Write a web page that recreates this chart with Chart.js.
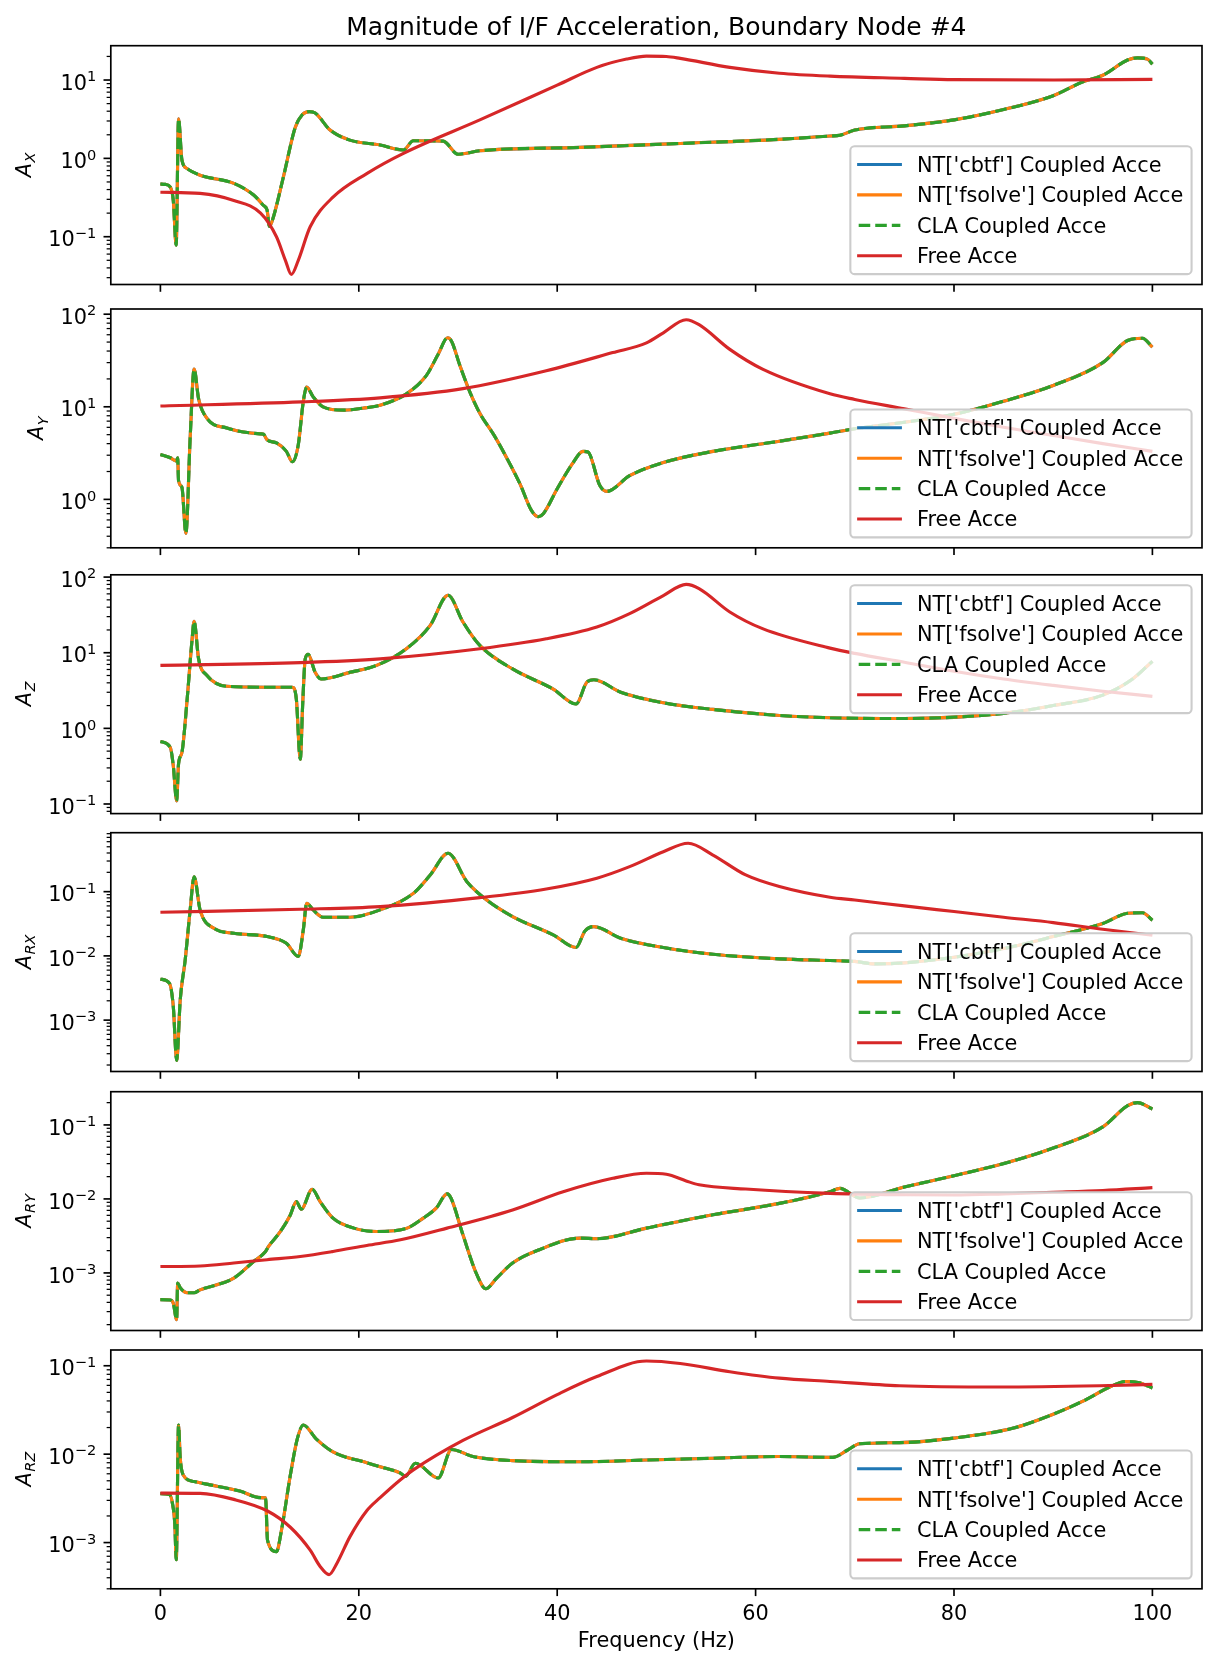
<!DOCTYPE html>
<html>
<head>
<meta charset="utf-8">
<script src="https://cdn.jsdelivr.net/npm/chart.js@4.4.1/dist/chart.umd.min.js"></script>
<style>
  html, body { margin: 0; padding: 0; background: #fff; }
  #wrap { position: relative; width: 1217px; height: 1667px; }
  #wrap canvas { position: absolute; left: 0; top: 0; }
</style>
</head>
<body>
<div id="wrap"></div>
<script>
// ---- data (frequency Hz, magnitude) ----
const title = 'Magnitude of I/F Acceleration, Boundary Node #4';
const xLabel = 'Frequency (Hz)';
const xTicks = [0, 20, 40, 60, 80, 100];
const seriesNames = ["NT['cbtf'] Coupled Acce", "NT['fsolve'] Coupled Acce", 'CLA Coupled Acce', 'Free Acce'];
const yNames = [['A','X'], ['A','Y'], ['A','Z'], ['A','RX'], ['A','RY'], ['A','RZ']];
const yMin = [0.02455, 0.3289, 0.07464, 0.0001585, 0.0001667, 0.0003342];
const yMax = [27.42, 113.8, 107.2, 0.8279, 0.2812, 0.1507];
const legendLoc = ['lower', 'lower', 'upper', 'lower', 'lower', 'lower'];

const coupledAX = [[0,0.47],[0.5,0.465],[1.0,0.43],[1.3,0.29],[1.59,0.078],[1.83,3.2],[2.17,0.95],[2.67,0.745],
  [4.0,0.61],[7.4,0.48],[9.4,0.34],[10.4,0.25],[10.75,0.22],[11.0,0.135],[11.4,0.18],[12.4,0.58],[13.6,2.5],
  [14.3,3.6],[15.0,3.95],[15.6,3.8],[17.1,2.3],[19.1,1.71],[22.15,1.48],[24.5,1.28],[25.5,1.68],[28.5,1.66],
  [30.0,1.13],[32.2,1.25],[42.3,1.38],[52.4,1.55],[62.4,1.75],[67.5,1.93],[68.5,1.97],[70.0,2.3],[75,2.6],
  [80,3.1],[85,4.2],[90,6.3],[93,9.5],[95,11.5],[97.5,18],[98.5,19.2],[99.5,18.5],[100,16]];
const freeAX = [[0,0.37],[4.0,0.357],[7.4,0.29],[10.1,0.2],[11.7,0.1],[12.6,0.05],[13.2,0.033],[13.9,0.05],
  [15.1,0.134],[17.4,0.32],[20.8,0.64],[24.5,1.16],[32.2,3.1],[40,8.6],[44,14.5],[47,18.5],[49,20.2],[51,20],
  [52.4,18.9],[57.4,14.5],[62.4,12.2],[67.5,11.2],[75,10.5],[80,10.1],[90,10.0],[100,10.2]];

const coupledAY = [[0,3.05],[1.0,2.82],[1.6,2.6],[1.74,2.82],[1.83,1.59],[2.17,1.35],[2.57,0.43],[3.0,4.6],
  [3.4,25.5],[3.85,12.2],[4.7,7.5],[6.7,5.9],[10.1,5.1],[10.4,5.05],[10.75,4.4],[11.7,4.07],[12.7,3.3],[13.3,2.55],
  [13.9,3.9],[14.4,11.3],[14.75,16.3],[15.4,12.8],[16.4,10],[18.5,9.2],[20.8,9.8],[22.15,10.4],[24.8,13.8],
  [26.8,21.7],[28.0,36.9],[28.95,55.6],[29.35,51],[30.2,27.7],[31.2,14.4],[32.2,8.5],[33.6,5.0],[34.9,2.82],
  [36.25,1.47],[37.4,0.76],[38.1,0.65],[38.6,0.7],[40,1.3],[41.5,2.4],[42.6,3.3],[43.1,3.25],[44.3,1.41],
  [45.0,1.22],[47.3,1.8],[50.7,2.5],[55.7,3.3],[62.4,4.25],[67.5,5.2],[70,5.8],[75,6.8],[80,8.3],[85,11.5],
  [90,17],[95,30],[97.5,52],[99,55],[100,44]];
const freeAY = [[0,10.2],[14.2,11.3],[22.15,12.5],[30.5,15.7],[38.9,24.5],[45.6,38.5],[49.0,49],[50.7,63],
  [53.0,87],[54.3,77],[57.4,41.7],[60.7,25.5],[67.5,13.8],[70,12],[75,9.5],[80,7.5],[85,6],[90,4.9],[95,4.0],[100,3.3]];

const coupledAZ = [[0,0.67],[1.0,0.56],[1.3,0.32],[1.64,0.11],[1.83,0.34],[2.17,0.48],[2.7,2.46],[3.2,15.3],
  [3.4,26],[3.85,8.3],[4.7,5.0],[6.7,3.6],[10.75,3.5],[13.3,3.5],[13.7,2.46],[14.1,0.39],[14.35,2.2],[14.6,8.3],
  [14.9,9.5],[15.6,5.5],[16.2,4.5],[19.1,5.5],[21.8,6.8],[24.8,11.3],[27.2,23],[29.0,57.5],[30.5,25.5],
  [32.2,12.5],[35.5,6.1],[39.6,3.3],[41.9,2.1],[43.0,4.1],[43.7,4.4],[46.4,3.0],[50.7,2.18],[55.7,1.78],
  [62.4,1.48],[67.5,1.38],[75,1.35],[85,1.58],[90,2.0],[95,2.75],[98,4.5],[100,7.7]];
const freeAZ = [[0,6.8],[14.1,7.4],[22.15,8.3],[32.2,11.3],[38.9,15.3],[44,21.9],[47.3,32.9],[50.7,57],
  [53,80],[54.3,70.5],[57.4,34.6],[60.7,20.8],[67.5,11.5],[70,9.8],[75,7.5],[80,5.7],[85,4.5],[90,3.7],[95,3.1],[100,2.65]];

const coupledARX = [[0,0.00434],[0.9,0.00376],[1.3,0.00163],[1.64,0.000236],[2.0,0.00207],[2.5,0.00867],
  [3.0,0.052],[3.4,0.171],[4.0,0.052],[5.4,0.0269],[7.4,0.0225],[10.75,0.02],[12.7,0.0157],[13.9,0.0098],
  [14.4,0.025],[14.75,0.066],[15.4,0.052],[16.4,0.04],[19.1,0.04],[22.15,0.052],[25.5,0.094],[27.2,0.182],
  [29.0,0.396],[30.9,0.143],[32.9,0.074],[35.5,0.041],[39.6,0.0212],[41.9,0.0135],[42.8,0.0245],[43.7,0.0286],
  [46.4,0.0188],[50.7,0.0135],[55.7,0.0106],[62.4,0.009],[67.5,0.00846],[70,0.0082],[72,0.0075],[75,0.0078],
  [80,0.0095],[85,0.013],[90,0.02],[95,0.032],[97.5,0.046],[99,0.047],[100,0.036]];
const freeARX = [[0,0.0478],[14.1,0.0532],[22.15,0.0585],[32.2,0.0807],[38.9,0.11],[44,0.162],[47.3,0.245],
  [50.7,0.419],[53.2,0.566],[55.7,0.372],[59.0,0.182],[62.4,0.12],[67.5,0.0817],[70,0.074],[75,0.06],[80,0.049],
  [85,0.04],[90,0.033],[95,0.026],[100,0.021]];

const coupledARY = [[0,0.000435],[1.0,0.00043],[1.3,0.00039],[1.64,0.000234],[1.74,0.00073],[2.0,0.00063],
  [2.7,0.00054],[3.4,0.00054],[4.0,0.00059],[7.4,0.00085],[9.4,0.00143],[10.6,0.00195],[10.9,0.00228],
  [12.1,0.00363],[13.1,0.00608],[13.7,0.0092],[14.2,0.00726],[15.3,0.0135],[16.1,0.0092],[17.4,0.0055],
  [19.5,0.00403],[21.8,0.00363],[24.8,0.004],[26.5,0.0055],[27.8,0.0075],[28.9,0.0117],[29.3,0.0102],
  [30.5,0.00327],[31.9,0.000946],[32.8,0.000612],[33.9,0.00085],[35.5,0.00136],[38.2,0.00206],[42.3,0.00295],
  [44,0.0029],[49,0.00403],[55.7,0.0061],[62.4,0.0087],[67.5,0.0125],[68.5,0.0139],[70.5,0.0103],[75,0.0145],
  [80,0.0206],[85,0.03],[90,0.0487],[95,0.094],[97.5,0.182],[98.5,0.2],[100,0.164]];
const freeARY = [[0,0.00122],[4,0.00124],[7.4,0.00136],[10.75,0.00151],[14.1,0.00167],[17.4,0.00195],
  [20.8,0.00235],[24.2,0.0028],[28.9,0.00403],[35.5,0.0071],[40.6,0.0125],[45.6,0.019],[49.0,0.0222],[51,0.0215],
  [53,0.0175],[54.3,0.0155],[59.0,0.0136],[67.5,0.0119],[75,0.0114],[80,0.0113],[85,0.0117],[90,0.0123],
  [95,0.013],[100,0.0142]];

const coupledARZ = [[0,0.00357],[0.9,0.0035],[1.2,0.00283],[1.45,0.00163],[1.6,0.00064],[1.83,0.0214],
  [2.0,0.009],[2.3,0.0058],[3.4,0.0049],[5.7,0.00434],[8.0,0.00382],[10.1,0.00322],[10.6,0.0032],[10.8,0.00106],
  [11.7,0.00079],[12.2,0.00137],[13.1,0.0058],[13.8,0.0149],[14.4,0.0214],[15.7,0.0149],[17.4,0.0106],
  [20.8,0.008],[22.15,0.0072],[24.2,0.0061],[24.7,0.0056],[25.7,0.00788],[28.0,0.00537],[29.35,0.0113],
  [31.5,0.0094],[35.5,0.00845],[42.3,0.0082],[49,0.00858],[55.7,0.009],[62.4,0.0094],[67.8,0.0092],
  [69.2,0.011],[70.5,0.0131],[74.5,0.0135],[80,0.0152],[85.9,0.0196],[90,0.0283],[93,0.0398],[95.7,0.0575],
  [97.3,0.0664],[98.7,0.064],[100,0.056]];
const freeARZ = [[0,0.00363],[4.0,0.0036],[7.4,0.00308],[10.75,0.00229],[13.1,0.00149],[15.1,0.00082],
  [16.1,0.000537],[17.0,0.000434],[17.8,0.000585],[19.1,0.00116],[20.8,0.00229],[22.15,0.00322],[24.2,0.00514],
  [25.5,0.00664],[30.5,0.0143],[35.5,0.026],[40,0.0472],[44,0.0755],[49,0.113],[52.4,0.106],[57.4,0.0857],
  [62.4,0.0724],[67.5,0.0664],[74.5,0.0594],[84.6,0.0575],[94.7,0.0594],[100,0.0615]];

const coupledSets = [coupledAX, coupledAY, coupledAZ, coupledARX, coupledARY, coupledARZ];
const freeSets = [freeAX, freeAY, freeAZ, freeARX, freeARY, freeARZ];

// ---- layout (matplotlib look, 150 dpi) ----
const W = 1217, H = 1667;
const PT = 150 / 72;
const FS = 10 * PT;
const FONT = '"DejaVu Sans", sans-serif';
const AX_LEFT = 110.8, AX_RIGHT = 1202, AX_H = 238.8;
const axTops = [45.7, 309, 574.8, 832.7, 1091.7, 1350];
const colors = ['#1f77b4', '#ff7f0e', '#2ca02c', '#d62728'];
const dash = [3.7 * 1.5 * PT, 1.6 * 1.5 * PT];

const toPts = arr => arr.map(p => ({x: p[0], y: p[1]}));

function seg(ctx, x0, y0, x1, y1) {
  ctx.beginPath(); ctx.moveTo(x0, y0); ctx.lineTo(x1, y1); ctx.stroke();
}

function expLabel(e) { return e < 0 ? '\u2212' + (-e) : String(e); }

function panelPlugin(i) {
  return {
    id: 'mpl' + i,
    afterDatasetsDraw(chart) {
      const ctx = chart.ctx, a = chart.chartArea;
      const xs = chart.scales.x, ys = chart.scales.y;
      ctx.save();
      ctx.fillStyle = '#000';
      ctx.strokeStyle = '#000';
      ctx.lineCap = 'butt';

      // spines
      ctx.lineWidth = 0.8 * PT;
      ctx.strokeRect(a.left, a.top, a.right - a.left, a.bottom - a.top);

      // x ticks
      xTicks.forEach(v => {
        const px = xs.getPixelForValue(v);
        seg(ctx, px, a.bottom, px, a.bottom + 3.5 * PT);
      });

      // y ticks (log, major + minor)
      const lo = Math.floor(Math.log10(ys.min)), hi = Math.ceil(Math.log10(ys.max));
      const labelRight = a.left - 3.5 * PT - 3.5 * PT;
      let labelLeft = labelRight;
      for (let e = lo; e <= hi; e++) {
        for (let k = 1; k <= 9; k++) {
          const v = k * Math.pow(10, e);
          if (v < ys.min * 0.9999 || v > ys.max * 1.0001) continue;
          const py = ys.getPixelForValue(v);
          if (k === 1) {
            ctx.lineWidth = 0.8 * PT;
            seg(ctx, a.left, py, a.left - 3.5 * PT, py);
            ctx.font = `${FS}px ${FONT}`;
            const w10 = ctx.measureText('10').width;
            ctx.font = `${0.7 * FS}px ${FONT}`;
            const ex = expLabel(e);
            const we = ctx.measureText(ex).width;
            const x0 = labelRight - w10 - we;
            labelLeft = Math.min(labelLeft, x0);
            ctx.textAlign = 'left'; ctx.textBaseline = 'alphabetic';
            ctx.font = `${FS}px ${FONT}`;
            ctx.fillText('10', x0, py + 9.7);
            ctx.font = `${0.7 * FS}px ${FONT}`;
            ctx.fillText(ex, x0 + w10, py + 1.2);
          } else {
            ctx.lineWidth = 0.6 * PT;
            seg(ctx, a.left, py, a.left - 2 * PT, py);
          }
        }
      }

      // y label (mathtext-like A_sub)
      const [base, sub] = yNames[i];
      ctx.save();
      ctx.translate(labelLeft - 17.4, (a.top + a.bottom) / 2);
      ctx.rotate(-Math.PI / 2);
      ctx.textAlign = 'left'; ctx.textBaseline = 'alphabetic';
      ctx.font = `italic ${FS}px ${FONT}`;
      const wA = ctx.measureText(base).width;
      ctx.font = `italic ${0.7 * FS}px ${FONT}`;
      const wS = ctx.measureText(sub).width;
      const sx = -(wA + wS) / 2;
      ctx.font = `italic ${FS}px ${FONT}`;
      ctx.fillText(base, sx, 0);
      ctx.font = `italic ${0.7 * FS}px ${FONT}`;
      ctx.fillText(sub, sx + wA + 0.5, 0.22 * FS);
      ctx.restore();

      // title on first panel
      if (i === 0) {
        ctx.font = `${12 * PT}px ${FONT}`;
        ctx.textAlign = 'center'; ctx.textBaseline = 'alphabetic';
        ctx.fillText(title, (a.left + a.right) / 2, 35);
      }
      // x tick labels + x label on last panel
      if (i === yNames.length - 1) {
        ctx.font = `${FS}px ${FONT}`;
        ctx.textAlign = 'center'; ctx.textBaseline = 'alphabetic';
        xTicks.forEach(v => ctx.fillText(String(v), xs.getPixelForValue(v), a.bottom + 31.4));
        ctx.fillText(xLabel, (a.left + a.right) / 2, a.bottom + 58.2);
      }

      // legend
      ctx.font = `${FS}px ${FONT}`;
      const tw = Math.max(...seriesNames.map(s => ctx.measureText(s).width));
      const rowH = 0.96 * FS;
      const bw = 0.4 * FS + 2 * FS + 0.8 * FS + tw + 0.4 * FS;
      const bh = 0.8 * FS + 4 * rowH + 3 * 0.5 * FS;
      const bx = a.right - 0.5 * FS - bw;
      const by = legendLoc[i] === 'upper' ? a.top + 0.5 * FS : a.bottom - 0.5 * FS - bh;
      ctx.beginPath();
      ctx.roundRect(bx, by, bw, bh, 0.2 * FS);
      ctx.fillStyle = 'rgba(255,255,255,0.8)';
      ctx.fill();
      ctx.lineWidth = 1.0 * PT;
      ctx.strokeStyle = '#cccccc';
      ctx.stroke();
      seriesNames.forEach((name, j) => {
        const cy = by + 0.4 * FS + rowH / 2 + j * (rowH + 0.5 * FS);
        ctx.strokeStyle = colors[j];
        ctx.lineWidth = 1.5 * PT;
        if (j === 2) { ctx.setLineDash(dash); ctx.lineCap = 'butt'; }
        else { ctx.setLineDash([]); ctx.lineCap = 'square'; }
        seg(ctx, bx + 0.4 * FS, cy, bx + 2.4 * FS, cy);
        ctx.setLineDash([]);
        ctx.fillStyle = '#000';
        ctx.textAlign = 'left'; ctx.textBaseline = 'alphabetic';
        ctx.fillText(name, bx + 3.2 * FS, cy + 7.4);
      });
      ctx.restore();
    }
  };
}

const wrap = document.getElementById('wrap');
yNames.forEach((nm, i) => {
  const cv = document.createElement('canvas');
  cv.width = W; cv.height = H;
  cv.style.width = W + 'px'; cv.style.height = H + 'px';
  wrap.appendChild(cv);
  const top = axTops[i];
  const coupled = toPts(coupledSets[i]);
  const free = toPts(freeSets[i]);
  new Chart(cv.getContext('2d'), {
    type: 'line',
    data: {
      datasets: [
        {label: seriesNames[0], data: coupled, borderColor: colors[0], order: 4},
        {label: seriesNames[1], data: coupled, borderColor: colors[1], order: 3},
        {label: seriesNames[2], data: coupled, borderColor: colors[2], borderDash: dash, order: 2},
        {label: seriesNames[3], data: free, borderColor: colors[3], order: 1}
      ]
    },
    options: {
      responsive: false,
      animation: false,
      events: [],
      layout: {padding: {left: AX_LEFT, right: W - AX_RIGHT, top: top, bottom: H - top - AX_H}},
      elements: {
        point: {radius: 0, hoverRadius: 0},
        line: {borderWidth: 1.5 * PT, cubicInterpolationMode: 'monotone', fill: false,
               borderJoinStyle: 'round', borderCapStyle: 'butt'}
      },
      scales: {
        x: {type: 'linear', min: -5, max: 105, display: false},
        y: {type: 'logarithmic', min: yMin[i], max: yMax[i], display: false}
      },
      plugins: {legend: {display: false}, tooltip: {enabled: false}}
    },
    plugins: [panelPlugin(i)]
  });
});
</script>
</body>
</html>
